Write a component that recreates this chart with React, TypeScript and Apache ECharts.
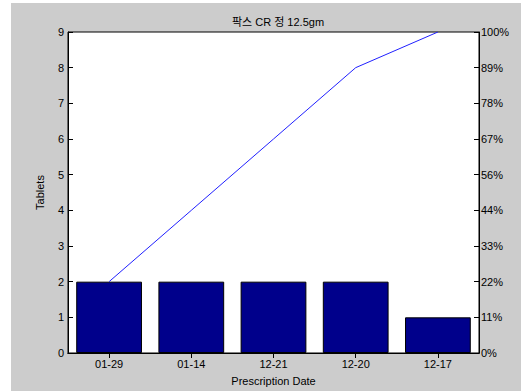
import React, { useEffect, useRef } from "react";
import * as echarts from "echarts";

const titleText = "팍스 CR 정 12.5gm";
const categories = ["01-29", "01-14", "12-21", "12-20", "12-17"];
const tablets = [2, 2, 2, 2, 1];
const cumulative = [2, 4, 6, 8, 9];
const rightLabels = ["0%", "11%", "22%", "33%", "44%", "56%", "67%", "78%", "89%", "100%"];

const FONT = "'Liberation Sans', Arial, 'Noto Sans CJK KR', sans-serif";

export default function App() {
  const ref = useRef<HTMLDivElement>(null);
  useEffect(() => {
    document.body.style.margin = "0";
    const chart = echarts.init(ref.current!, null, { renderer: "svg" });
    const labelStyle = { color: "#000", fontSize: 11, fontFamily: FONT };
    chart.setOption({
      animation: false,
      backgroundColor: "#cccccc",
      title: {
        text: titleText,
        left: 262,
        top: 8,
        textAlign: "center",
        textStyle: { color: "#000", fontSize: 11, fontWeight: "normal", fontFamily: FONT },
      },
      grid: {
        left: 57,
        right: 42,
        top: 29,
        bottom: 36,
        show: true,
        backgroundColor: "#ffffff",
        borderColor: "#000",
        borderWidth: 1,
      },
      xAxis: [
        {
          type: "category",
          data: categories,
          position: "bottom",
          name: "Prescription Date",
          nameLocation: "middle",
          nameGap: 22,
          nameTextStyle: { ...labelStyle },
          axisLine: { show: true, lineStyle: { color: "#000" } },
          axisTick: { show: true, inside: true, alignWithLabel: true, length: 5, lineStyle: { color: "#000" } },
          axisLabel: { ...labelStyle, margin: 5 },
          splitLine: { show: false },
        },
        {
          type: "category",
          data: categories,
          position: "top",
          axisLine: { show: true, lineStyle: { color: "#000" } },
          axisTick: { show: true, inside: true, alignWithLabel: true, length: 5, lineStyle: { color: "#000" } },
          axisLabel: { show: false },
          splitLine: { show: false },
        },
      ],
      yAxis: [
        {
          type: "value",
          min: 0,
          max: 9,
          interval: 1,
          position: "left",
          name: "Tablets",
          nameLocation: "middle",
          nameGap: 23,
          nameTextStyle: { ...labelStyle },
          axisLine: { show: true, lineStyle: { color: "#000" } },
          axisTick: { show: true, inside: true, length: 5, lineStyle: { color: "#000" } },
          axisLabel: { ...labelStyle, margin: 4 },
          splitLine: { show: false },
        },
        {
          type: "value",
          min: 0,
          max: 9,
          interval: 1,
          position: "right",
          axisLine: { show: true, lineStyle: { color: "#000" } },
          axisTick: { show: true, inside: true, length: 5, lineStyle: { color: "#000" } },
          axisLabel: {
            ...labelStyle,
            margin: 2,
            formatter: (v: number) => rightLabels[Math.round(v)] ?? "",
          },
          splitLine: { show: false },
        },
      ],
      series: [
        {
          type: "bar",
          data: tablets,
          xAxisIndex: 0,
          yAxisIndex: 0,
          barCategoryGap: "20%",
          itemStyle: { color: "#00008b", borderColor: "#000", borderWidth: 1 },
        },
        {
          type: "line",
          data: cumulative,
          xAxisIndex: 0,
          yAxisIndex: 0,
          symbol: "none",
          lineStyle: { color: "#2020ff", width: 1 },
        },
      ],
    });
    return () => chart.dispose();
  }, []);
  return (
    <div style={{ position: "fixed", left: 0, top: 0, width: 521, height: 391, background: "#fff" }}>
      <div
        ref={ref}
        style={{ position: "absolute", left: 11, top: 3, width: 510, height: 388 }}
      />
    </div>
  );
}
